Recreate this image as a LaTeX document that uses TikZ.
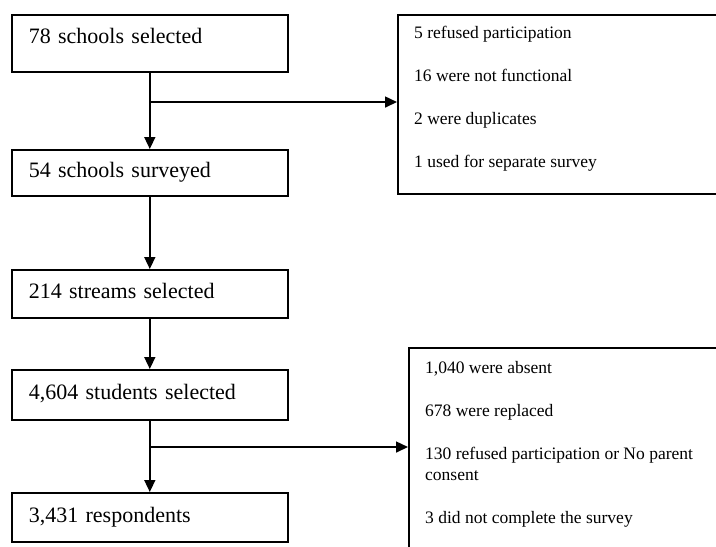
\documentclass[tikz,border=0pt]{standalone}
\usepackage{fontspec}
\setmainfont{Liberation Serif}
\usetikzlibrary{arrows.meta,positioning,calc}

\begin{document}
\begin{tikzpicture}[x=1pt, y=-1pt,
    every node/.style={font=\fontsize{22}{26}\selectfont},
    stepbox/.style={draw, line width=1.6pt, anchor=north west, minimum width=276pt, minimum height=48pt, text width=242pt, align=left, inner xsep=17pt, text height=15pt, text depth=5pt},
    exclbox/.style={draw, line width=1.6pt, anchor=north west, minimum width=340pt},
    excltext/.style={anchor=north west, align=left, inner xsep=17pt, inner ysep=12pt, font=\fontsize{17.5}{21.5}\selectfont},
    flow/.style={line width=1.6pt, -{Triangle[length=12pt,width=11pt]}},
]
\path[use as bounding box, clip] (0,0) rectangle (716,547);

% main steps
\node[stepbox, minimum height=57pt, text depth=14pt] (sel) at (11,14) {78 schools selected};
\node[stepbox, minimum height=46pt] (surv) at (11,149) {54 schools surveyed};
\node[stepbox] (streams) at (11,269) {214 streams selected};
\node[stepbox, minimum height=50pt] (stud) at (11,369) {4,604 students selected};
\node[stepbox, minimum height=49pt] (resp) at (11,492) {3,431 respondents};

% exclusions
\node[exclbox, minimum height=179pt, label={[excltext]north west:{5 refused participation\\[21.5pt]
    16 were not functional\\[21.5pt]
    2 were duplicates\\[21.5pt]
    1 used for separate survey}}] (excl1) at (397,14) {};
\node[exclbox, minimum height=220pt, label={[excltext, inner ysep=14pt]north west:{1,040 were absent\\[21.5pt]
    678 were replaced\\[21.5pt]
    130 refused participation or No parent\\
    consent\\[21.5pt]
    3 did not complete the survey}}] (excl2) at (408,347) {};

\draw[flow] (sel) -- (surv);
\draw[flow] (surv) -- (streams);
\draw[flow] (streams) -- (stud);
\draw[flow] (stud) -- (resp);

\coordinate (br1) at ($(sel.south)!0.385!(surv.north)$);
\coordinate (br2) at ($(stud.south)!0.37!(resp.north)$);
\draw[flow] (br1) -- (br1 -| excl1.west);
\draw[flow] (br2) -- (br2 -| excl2.west);
\end{tikzpicture}
\end{document}
